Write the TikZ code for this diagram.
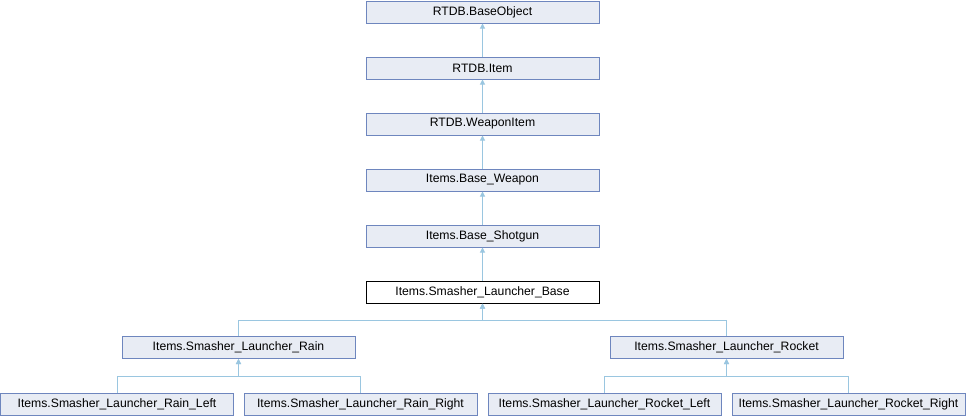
\documentclass[tikz,border=0pt]{standalone}
\usepackage{fontspec}
\setmainfont{Liberation Sans}
\usetikzlibrary{arrows.meta}
\definecolor{boxfill}{RGB}{232,236,244}
\definecolor{boxdraw}{RGB}{110,134,190}
\definecolor{edgecol}{RGB}{154,198,224}
\begin{document}
\begin{tikzpicture}[x=1pt,y=-1pt,
  cls/.style={draw=boxdraw,fill=boxfill,line width=1pt,minimum width=233pt,minimum height=22pt,inner sep=0pt,font=\fontsize{12.2}{14}\selectfont},
  cur/.style={cls,draw=black,fill=white},
  inh/.style={draw=edgecol,line width=1pt,-{Triangle[width=5pt,length=5pt]}}]
\useasboundingbox (0,0) rectangle (966,416);
\node[cls] (bo) at (482.5,12) {RTDB.BaseObject};
\node[cls] (it) at (482.5,68) {RTDB.Item};
\node[cls] (wi) at (482.5,124) {RTDB.WeaponItem};
\node[cls] (bw) at (482.5,180) {Items.Base\_Weapon};
\node[cls] (bs) at (482.5,236) {Items.Base\_Shotgun};
\node[cur] (slb) at (482.5,292) {Items.Smasher\_Launcher\_Base};
\node[cls] (rain) at (238.5,347.5) {Items.Smasher\_Launcher\_Rain};
\node[cls] (rock) at (726.5,347.5) {Items.Smasher\_Launcher\_Rocket};
\node[cls] (rl) at (117,404) {Items.Smasher\_Launcher\_Rain\_Left};
\node[cls] (rr) at (360.5,404) {Items.Smasher\_Launcher\_Rain\_Right};
\node[cls] (kl) at (604.5,404) {Items.Smasher\_Launcher\_Rocket\_Left};
\node[cls] (kr) at (848.5,404) {Items.Smasher\_Launcher\_Rocket\_Right};
\coordinate (f1) at (482.5,320);
\coordinate (f2) at (238.5,376);
\coordinate (f3) at (726.5,376);
\draw[inh] (it.north) -- (bo.south);
\draw[inh] (wi.north) -- (it.south);
\draw[inh] (bw.north) -- (wi.south);
\draw[inh] (bs.north) -- (bw.south);
\draw[inh] (slb.north) -- (bs.south);
\draw[inh] (rain.north) |- (f1) -- (slb.south);
\draw[inh] (rock.north) |- (f1) -- (slb.south);
\draw[inh] (rl.north) |- (f2) -- (rain.south);
\draw[inh] (rr.north) |- (f2) -- (rain.south);
\draw[inh] (kl.north) |- (f3) -- (rock.south);
\draw[inh] (kr.north) |- (f3) -- (rock.south);
\end{tikzpicture}
\end{document}
